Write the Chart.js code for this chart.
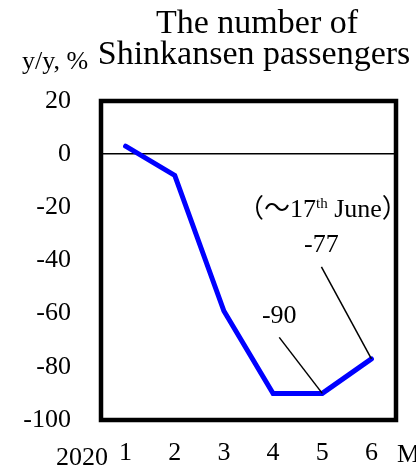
<!DOCTYPE html>
<html>
<head>
<meta charset="utf-8">
<script src="https://cdn.jsdelivr.net/npm/chart.js@4/dist/chart.umd.min.js"></script>
<style>
  html, body { margin: 0; padding: 0; background: #fff; }
  #wrap { width: 416px; height: 468px; position: relative; }
</style>
</head>
<body>
<div id="wrap"><canvas id="c" width="416" height="468"></canvas></div>
<script>
// Year-on-year change in Shinkansen passengers, 2020 (June up to the 17th)
const months = ['1', '2', '3', '4', '5', '6'];
const yoyChange = [3, -8, -59, -90, -90, -77];
const yTicks = [20, 0, -20, -40, -60, -80, -100];
const titleLines = ['The number of', 'Shinkansen passengers'];
const unitLabel = 'y/y, %';
const yearLabel = '2020';
const monthUnit = 'M';
const periodNote = ['（～17', 'th', ' June）'];
// value callouts: [month index, label offset x, label offset y, leader start offset y]
const callouts = [[4, -43, -70, -56], [5, -50, -107, -92]];

const SERIF = "'Liberation Serif', 'Times New Roman', 'Noto Sans CJK JP', serif";

const decorations = {
  id: 'decorations',
  afterDatasetsDraw(chart) {
    const { ctx, chartArea: a, scales: { x, y } } = chart;
    ctx.save();
    // frame
    ctx.strokeStyle = '#000';
    ctx.lineWidth = 4.5;
    ctx.strokeRect(a.left, a.top, a.right - a.left, a.bottom - a.top);

    ctx.fillStyle = '#000';
    // title
    ctx.font = '34px ' + SERIF;
    ctx.textAlign = 'center';
    ctx.textBaseline = 'alphabetic';
    ctx.fillText(titleLines[0], 257, 33);
    ctx.fillText(titleLines[1], 254, 64);

    ctx.font = '26px ' + SERIF;
    ctx.textAlign = 'left';
    ctx.fillText(unitLabel, 22, 69);
    ctx.textAlign = 'right';
    ctx.fillText(yearLabel, 108, 465);
    ctx.textAlign = 'left';
    ctx.fillText(monthUnit, 397, 462);

    // callouts with leader lines
    ctx.lineWidth = 1.5;
    callouts.forEach(([i, dx, dy, ly]) => {
      const px = x.getPixelForValue(i);
      const py = y.getPixelForValue(yoyChange[i]);
      ctx.beginPath();
      ctx.moveTo(px + dx, py + ly);
      ctx.lineTo(px, py);
      ctx.stroke();
      ctx.font = '26px ' + SERIF;
      ctx.textAlign = 'center';
      ctx.fillText(String(yoyChange[i]), px + dx, py + dy);
    });

    // period note
    let nx = 238;
    const nb = 217;
    ctx.textAlign = 'left';
    ctx.font = '26px ' + SERIF;
    ctx.fillText(periodNote[0], nx, nb);
    nx += ctx.measureText(periodNote[0]).width;
    ctx.font = '15px ' + SERIF;
    ctx.fillText(periodNote[1], nx, nb - 9);
    nx += ctx.measureText(periodNote[1]).width;
    ctx.font = '26px ' + SERIF;
    ctx.fillText(periodNote[2], nx, nb);
    ctx.restore();
  }
};

new Chart(document.getElementById('c'), {
  type: 'line',
  data: {
    labels: months,
    datasets: [{
      data: yoyChange,
      borderColor: '#0000FF',
      borderWidth: 5,
      borderCapStyle: 'round',
      borderJoinStyle: 'miter',
      pointRadius: 0,
      tension: 0,
      fill: false
    }]
  },
  options: {
    responsive: false,
    animation: false,
    devicePixelRatio: 1,
    layout: { padding: { left: 0, right: 20, top: 101, bottom: 0 } },
    plugins: { legend: { display: false }, tooltip: { enabled: false }, title: { display: false } },
    scales: {
      x: {
        offset: true,
        border: { display: false },
        grid: { display: false, drawTicks: false },
        ticks: { color: '#000', font: { family: SERIF, size: 26 }, padding: 18, maxRotation: 0 },
        afterFit(s) { s.height = 48; }
      },
      y: {
        min: -100,
        max: 20,
        border: { display: false },
        afterBuildTicks(s) { s.ticks = yTicks.map(v => ({ value: v })); },
        grid: {
          drawTicks: false,
          color: c => (c.tick && c.tick.value === 0 ? '#000' : 'rgba(0,0,0,0)'),
          lineWidth: 1.5
        },
        ticks: { color: '#000', font: { family: SERIF, size: 26 }, padding: 30 },
        afterFit(s) { s.width = 101; }
      }
    }
  },
  plugins: [decorations]
});
</script>
</body>
</html>
